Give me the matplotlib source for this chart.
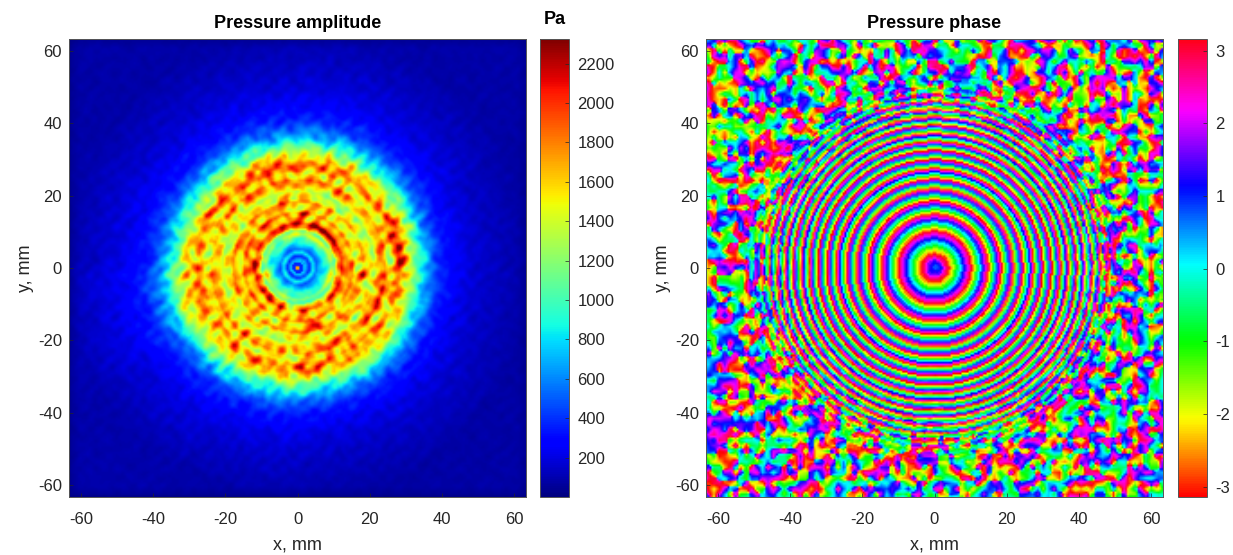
import numpy as np
import matplotlib
matplotlib.use('Agg')
import matplotlib.pyplot as plt

plt.rcParams.update({'font.family': ['Liberation Sans', 'DejaVu Sans'], 'font.size': 12, 'axes.linewidth': 0.7,
                     'axes.edgecolor': '#555555', 'xtick.color': '#262626', 'ytick.color': '#262626',
                     'text.color': '#262626', 'axes.labelcolor': '#262626', 'axes.unicode_minus': False})

### values estimated by eye from the reference, the maps are rebuilt from these
### radial tables, they are NOT the measured pixels of the original
x_ticks = [-60, -40, -20, 0, 20, 40, 60]
amp_ticks = [200, 400, 600, 800, 1000, 1200, 1400, 1600, 1800, 2000, 2200]
phase_ticks = [-3, -2, -1, 0, 1, 2, 3]
amp_range = [0, 2325]
phase_range = [-3.14, 3.16]
half_width = 63.3

# mean amplitude (Pa) for r = 0, 1, 2, ... mm
amp_by_radius = [1700, 380, 700, 400, 800, 520, 680, 850, 950, 1250, 1100, 1650, 1850, 1550, 1500, 1650,
                 1400, 1500, 1600, 1350, 1350, 1250, 1450, 1600, 1650, 1400, 1350, 1550, 1650, 1550, 1350,
                 1250, 1100, 950, 820, 700, 590, 510, 440, 380, 335, 300, 275, 250, 230, 210, 195, 180,
                 170, 160, 150, 145, 140, 130, 125, 120, 115, 110, 105, 100, 95, 90, 85, 80, 75, 70]

# amplitude factor by ring band (rows) and 30 degree sector counted from +x (columns)
band_edges = [8, 14, 20, 26, 32, 90]
amp_sector_0 = [1.05, 1.10, 1.10, 1.05, 1.00, 1.00, 1.05, 1.05, 0.95, 0.85, 0.90, 1.05]
amp_sector_1 = [0.95, 0.95, 1.00, 1.05, 1.05, 1.05, 1.05, 1.00, 1.00, 1.15, 1.05, 1.05]
amp_sector_2 = [1.00, 0.95, 1.00, 1.05, 1.00, 0.95, 1.00, 1.00, 0.95, 1.05, 1.00, 1.10]
amp_sector_3 = [1.15, 1.00, 1.05, 1.10, 1.05, 1.00, 1.05, 1.00, 1.05, 1.05, 1.05, 1.00]
amp_sector_4 = [1.00, 1.10, 1.15, 1.10, 1.10, 1.20, 1.45, 1.20, 1.10, 1.00, 1.05, 1.00]

# phase (rad) for r = 0, 0.5, 1.0, ... 64 mm
phase_by_radius = [1.0, 1.0, 1.1, 1.2, 1.6, 2.2, 2.7, 3.0,
                   -2.85, -2.35, -1.87, -1.38, -0.88, -0.39, 0.1, 0.59, 1.08, 1.57, 2.06, 2.55, 3.04,
                   -2.6, -1.94, -1.27, -0.6, 0.07, 0.74, 1.4, 2.07, 2.74,
                   -2.8, -1.95, -1.1, -0.25, 0.6, 1.45, 2.3, 3.14,
                   -2.19, -1.24, -0.29, 0.66, 1.6, 2.56,
                   -2.69, -1.57, -0.45, 0.67, 1.79, 2.91,
                   -2.24, -1.12, 0.0, 1.12, 2.24,
                   -2.9, -1.69, -0.48, 0.73, 1.94, 3.14,
                   -1.88, -0.63, 0.63, 1.88, 3.14,
                   -1.83, -0.52, 0.79, 2.1,
                   -2.87, -1.5, -0.14, 1.23, 2.59,
                   -2.32, -0.96, 0.41, 1.77, 3.14,
                   -1.71, -0.29, 1.14, 2.57,
                   -2.28, -0.86, 0.57, 2.0,
                   -2.85, -1.4, 0.0, 1.4, 2.8,
                   -1.8, -0.3, 1.2, 2.7,
                   -2.1, -0.6, 0.9, 2.4, -2.4, -0.9, 0.6, 2.1, -2.7, -1.2, 0.3, 1.8, -3.0, -1.5, 0.0, 1.5,
                   3.0, -1.8, -0.3, 1.2, 2.7, -2.1, -0.6, 0.9, 2.4, -2.4, -0.9, 0.6, 2.1, -2.7, -1.2, 0.3]

# how much the rings are broken up, for r = 0, 4, 8, ... mm
speckle_by_radius = [0.20, 0.08, 0.02, 0.02, 0.02, 0.03, 0.04, 0.06, 0.08, 0.14, 0.25, 0.38, 0.52, 0.72, 0.90,
                     1.0, 1.0, 1.0, 1.0, 1.0, 1.0, 1.0, 1.0]

# hand typed texture for the speckle, its cells do not match the original's cell for cell
tile_a = [[2.1, -1.3, 0.4, 2.9, -2.2, 1.0, -0.6, 2.5, -2.9],
          [-0.8, 2.6, -2.7, 0.9, 1.8, -1.5, 3.0, -0.2, 1.3],
          [1.5, -2.4, 0.1, -1.1, 2.7, 0.5, -2.0, 1.9, -0.9],
          [-2.8, 0.7, 2.2, -0.4, -1.9, 2.4, 1.1, -2.6, 0.2],
          [0.6, 1.7, -1.6, 2.8, 0.0, -2.5, -0.7, 1.2, 2.3],
          [2.9, -0.5, -2.3, 1.4, -1.2, 0.8, 2.6, -1.8, -0.1],
          [-1.7, 2.0, 0.3, -2.9, 2.2, -0.3, 1.6, 0.7, -2.4],
          [0.9, -2.1, 2.7, 1.1, -0.9, -2.7, 0.4, 2.8, 1.7],
          [-0.4, 1.3, -1.4, 2.4, -2.6, 1.9, -1.0, -2.2, 0.5]]
tile_b = [[0.8, -1.2, 2.0, -2.5, 0.2, 1.4, -0.7, 2.7, -1.9, 0.5, 1.1],
          [-2.2, 1.6, -0.3, 0.9, -1.5, 2.3, 0.6, -2.8, 1.2, -0.6, 2.5],
          [1.9, -0.9, 2.8, -1.8, 1.0, -2.4, 2.2, 0.1, -1.1, 2.6, -0.2],
          [-0.5, 2.4, -2.0, 0.4, 2.9, -0.8, -1.6, 1.5, 0.7, -2.7, 1.3],
          [2.6, -2.9, 0.9, -1.0, 1.7, 0.3, 2.1, -2.3, -0.4, 1.8, -1.4],
          [-1.3, 0.0, 1.8, 2.5, -2.1, -0.6, 1.2, 0.8, 2.9, -1.7, 0.6],
          [0.4, 2.2, -2.6, -0.1, 1.1, 2.7, -1.9, -0.9, 1.6, 0.2, -2.4],
          [-2.9, 1.0, 0.5, 2.3, -1.4, 0.7, -0.2, 2.4, -2.0, 1.5, 2.8],
          [1.4, -0.4, -1.7, 0.6, 2.6, -2.8, 1.9, -1.2, 0.3, -0.7, 2.0],
          [-0.9, 2.9, 1.3, -2.3, 0.1, 1.6, -1.0, 0.9, 2.2, -2.6, -0.3],
          [2.4, -1.6, -0.8, 1.7, -2.7, -0.5, 2.8, 0.2, -1.5, 1.0, 0.6]]


def blur(field, n):
    kernel = np.ones(n)/n
    field = np.apply_along_axis(lambda v: np.convolve(v, kernel, mode='same'), 0, field)
    return np.apply_along_axis(lambda v: np.convolve(v, kernel, mode='same'), 1, field)


def tile_field(col, row, cell):
    a = np.array(tile_a)
    b = np.array(tile_b)
    i = (col//cell).astype(int)
    j = (row//cell).astype(int)
    return a[j % 9, i % 9], b[j % 11, i % 11]


axis_values = np.arange(-half_width, half_width, 0.5)
xx, yy = np.meshgrid(axis_values, axis_values)
rr = np.hypot(xx, yy)
aa = np.degrees(np.arctan2(yy, xx)) % 360
col, row = np.meshgrid(np.arange(len(axis_values)), np.arange(len(axis_values)))

### amplitude map
sectors = np.array([amp_sector_0, amp_sector_1, amp_sector_2, amp_sector_3, amp_sector_4])
band = np.clip(np.searchsorted(band_edges, rr) - 1, 0, 4)
sector_factor = blur(sectors[band, (aa//30).astype(int) % 12], 11)
sector_factor[rr < 8] = 1.0
a1, a2 = tile_field(col, row, 3)
amp_noise = blur(a1 + a2, 5)
f1, f2 = tile_field(col, row, 1)
fine_noise = blur(f1 + f2, 3)
amp = np.array(amp_by_radius)[np.clip(np.round(rr).astype(int), 0, len(amp_by_radius)-1)]*sector_factor
amp = amp*(1 + 0.14*amp_noise*np.clip(rr/8, 0, 1) + 0.09*fine_noise*np.clip(rr/30, 0, 1))
amp[rr >= 2] = blur(amp, 2)[rr >= 2]

### phase map
p1, p2 = tile_field(col, row, 3)
speckle = blur(np.exp(1j*(p1 + p2)), 3)
speckle = speckle/np.maximum(np.abs(speckle), 1e-6)
rings = np.exp(1j*np.array(phase_by_radius)[np.clip(np.round(rr/0.5).astype(int), 0, len(phase_by_radius)-1)])
weight = np.array(speckle_by_radius)[np.clip(np.round(rr/4).astype(int), 0, len(speckle_by_radius)-1)]
weight = blur(weight, 5)
phase = np.angle((1 - weight)*rings + weight*speckle)

### layout in pixels of the 1233x555 figure
W, H = 1233, 555
fig = plt.figure(figsize=(W/100, H/100), dpi=100)


def add_box(x0, x1, y0, y1):
    return fig.add_axes([x0/W, 1 - y1/H, (x1 - x0)/W, (y1 - y0)/H])


ext = [-half_width, half_width, -half_width, half_width]
panels = [(amp, 'jet', amp_range, amp_ticks, 'Pressure amplitude', 69, 540),
          (phase, 'hsv', phase_range, phase_ticks, 'Pressure phase', 706, 1178)]
for field, cmap, lims, cticks, title, x0, cx0 in panels:
    ax = add_box(x0, x0 + 457, 39, 497)
    im = ax.imshow(field, origin='lower', extent=ext, cmap=cmap, vmin=lims[0], vmax=lims[1],
                   interpolation='bilinear', interpolation_stage='rgba', aspect='auto')
    ax.set_xticks(x_ticks)
    ax.set_yticks(x_ticks)
    ax.tick_params(direction='in', length=3, width=0.5, labelsize=12, pad=5)
    ax.tick_params(axis='x', pad=11)
    ax.set_xlabel('x, mm', fontsize=13, labelpad=7)
    ax.set_ylabel('y, mm', fontsize=13, labelpad=3)
    ax.set_title(title, fontsize=13, fontweight='bold', color='black', pad=8)
    cax = add_box(cx0, cx0 + 29, 39, 497)
    cb = fig.colorbar(im, cax=cax)
    cb.set_ticks(cticks)
    cb.ax.tick_params(direction='in', length=3, width=0.5, labelsize=12, pad=6)
    cb.outline.set_linewidth(0.7)
    cb.outline.set_edgecolor('#555555')

fig.text(555/W, 1 - 20/H, 'Pa', fontsize=13, fontweight='bold', color='black', ha='center', va='center')

plt.savefig('out.png', dpi=100)
